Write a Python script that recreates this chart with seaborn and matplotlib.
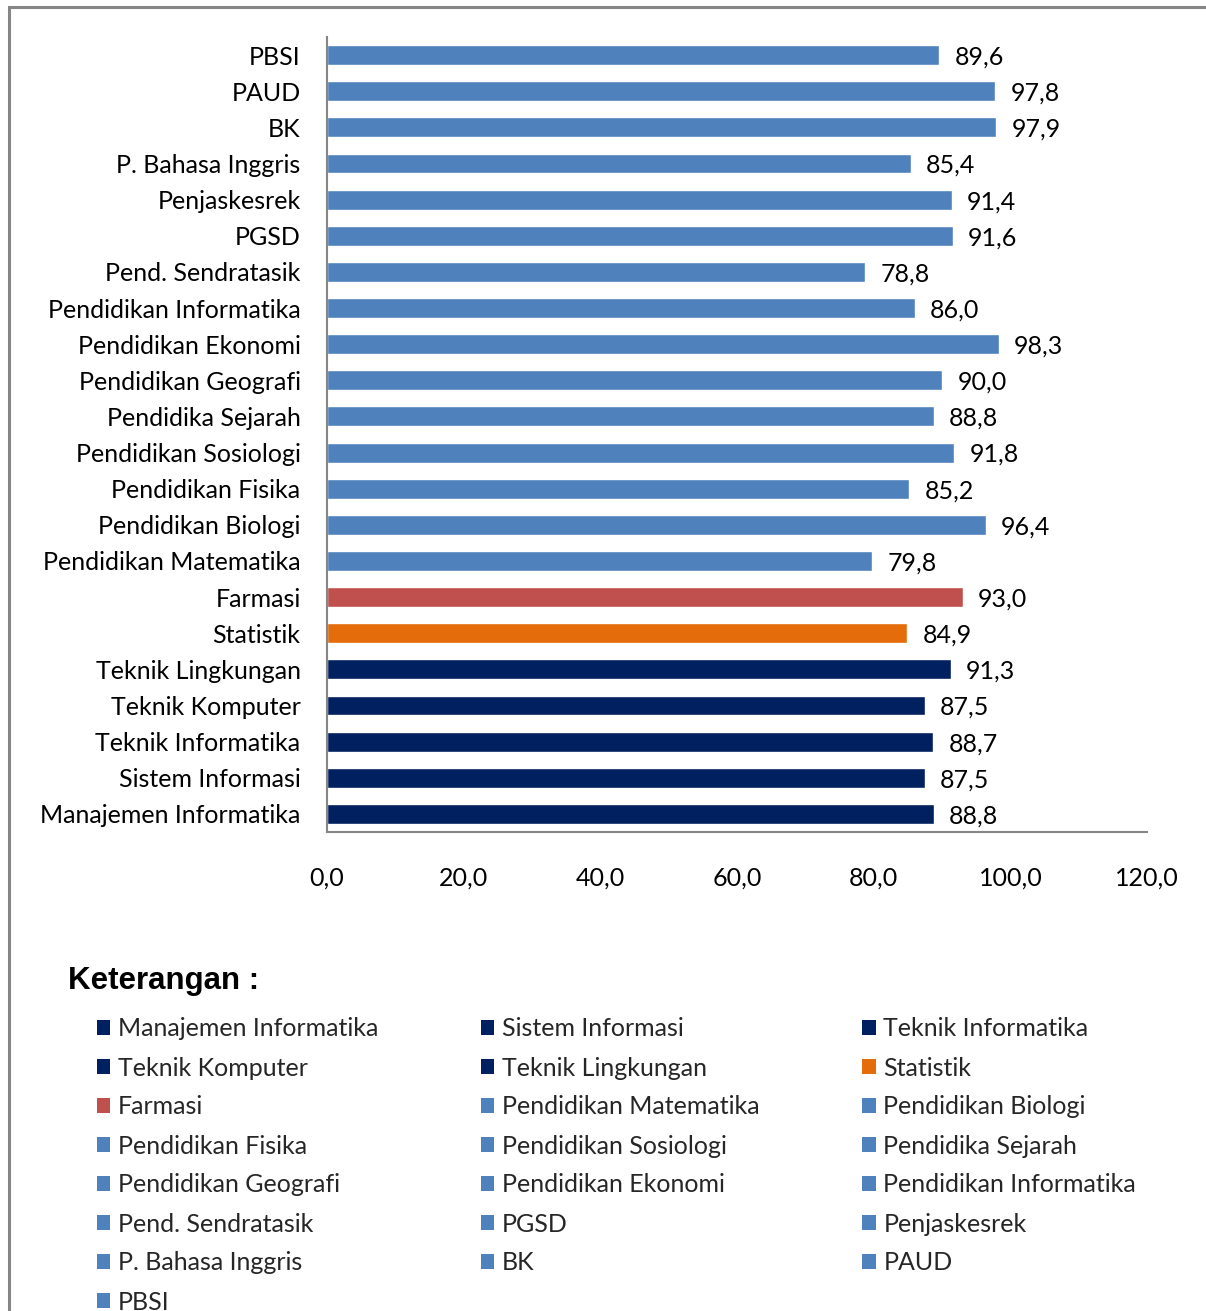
import matplotlib
matplotlib.use("Agg")
import matplotlib.pyplot as plt
import seaborn as sns
import pandas as pd
from matplotlib.patches import Patch, Rectangle
from matplotlib.ticker import FuncFormatter

# data, listed top to bottom as in the chart
prodi = ["PBSI", "PAUD", "BK", "P. Bahasa Inggris", "Penjaskesrek", "PGSD",
         "Pend. Sendratasik", "Pendidikan Informatika", "Pendidikan Ekonomi",
         "Pendidikan Geografi", "Pendidika Sejarah", "Pendidikan Sosiologi",
         "Pendidikan Fisika", "Pendidikan Biologi", "Pendidikan Matematika",
         "Farmasi", "Statistik", "Teknik Lingkungan", "Teknik Komputer",
         "Teknik Informatika", "Sistem Informasi", "Manajemen Informatika"]
nilai = [89.6, 97.8, 97.9, 85.4, 91.4, 91.6, 78.8, 86.0, 98.3, 90.0, 88.8,
         91.8, 85.2, 96.4, 79.8, 93.0, 84.9, 91.3, 87.5, 88.7, 87.5, 88.8]
kelompok = ["fkip"] * 15 + ["farmasi", "statistik"] + ["teknik"] * 5
warna_kelompok = {"fkip": "#4F81BD", "farmasi": "#C0504D",
                  "statistik": "#E46C0A", "teknik": "#002060"}
xticks = [0, 20, 40, 60, 80, 100, 120]

df = pd.DataFrame({"prodi": prodi, "nilai": nilai, "kelompok": kelompok})
palette = {p: warna_kelompok[k] for p, k in zip(prodi, kelompok)}


def koma(v):
    # decimal comma, one digit
    return f"{v:.1f}".replace(".", ",")


sns.set_style("white")
plt.rcParams["font.family"] = ["Lato", "DejaVu Sans"]
FS = 18
GRAY = "#868686"

fig = plt.figure(figsize=(12.06, 13.11), dpi=100)
ax = fig.add_axes([327 / 1206, 1 - 832 / 1311, 820 / 1206, 795 / 1311])

sns.barplot(data=df, x="nilai", y="prodi", hue="prodi", palette=palette,
            width=0.55, saturation=1, legend=False, ax=ax)

# value labels sit slightly low, like the original
for cont in ax.containers:
    for t in ax.bar_label(cont, fmt=koma, padding=11, fontsize=FS, color="black"):
        t.set_va("center_baseline")

ax.set_xlim(0, 120)
ax.set_ylim(21.5, -0.5)
ax.set_xticks(xticks)
ax.xaxis.set_major_formatter(FuncFormatter(lambda v, p: koma(v)))
ax.tick_params(axis="x", length=0, pad=25, labelsize=FS, colors="black")
ax.tick_params(axis="y", length=0, pad=19, labelsize=FS, colors="black")
ax.set_xlabel("")
ax.set_ylabel("")
for s in ["top", "right"]:
    ax.spines[s].set_visible(False)
for s in ["left", "bottom"]:
    ax.spines[s].set_color(GRAY)
    ax.spines[s].set_linewidth(1.5)

# outer frame (only top and left edges visible)
fig.patches.append(Rectangle((9 / 1206, -0.05), 1.2, 1 - 7 / 1311 + 0.05,
                             transform=fig.transFigure, fill=False,
                             edgecolor=GRAY, linewidth=2.2))

fig.text(68 / 1206, 1 - 981 / 1311, "Keterangan :", fontsize=22.5,
         fontweight="bold", family=["Liberation Sans", "DejaVu Sans"],
         va="center", color="black")

# legend: row-major from the bottom bar upward
urutan = prodi[::-1]
urutan_kol = [p for i in range(3) for p in urutan[i::3]]
handles = [Patch(facecolor=palette[p], edgecolor="none") for p in urutan_kol]
fig.legend(handles, urutan_kol, ncol=3, loc="upper left",
           bbox_to_anchor=(84 / 1206, 1 - 1005 / 1311), frameon=False,
           fontsize=FS, borderpad=0, handlelength=0.55, handleheight=0.55,
           handletextpad=0.3, columnspacing=4.1, labelspacing=0.64)

fig.savefig("out.png", dpi=100)
